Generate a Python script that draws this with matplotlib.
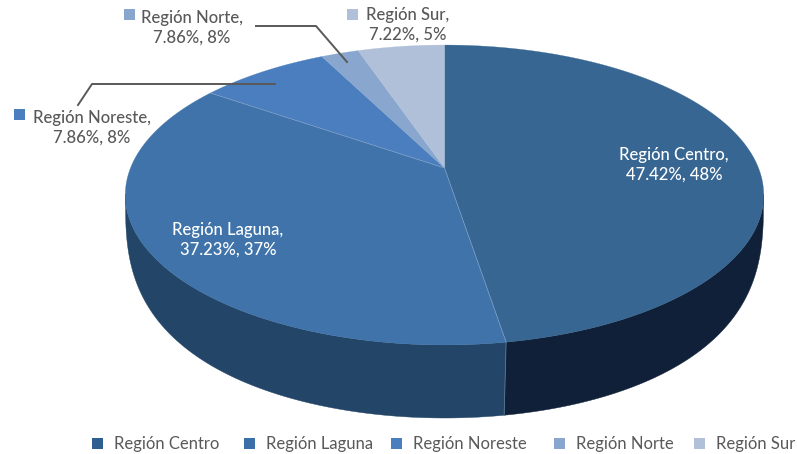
import numpy as np
import matplotlib
matplotlib.use("Agg")
import matplotlib.pyplot as plt
from matplotlib.patches import Rectangle

plt.rcParams['font.family'] = ['Lato', 'DejaVu Sans']

# Data
regions = ['Región Centro', 'Región Laguna', 'Región Noreste', 'Región Norte', 'Región Sur']
values = [47.42, 37.23, 7.86, 2.27, 5.22]
label_lines = ['47.42%, 48%', '37.23%, 37%', '7.86%, 8%', '7.86%, 8%', '7.22%, 5%']
top_colors = ['#366691', '#3f73aa', '#4a7ebf', '#88a6ce', '#b0c0d8']
side_colors = ['#102038', '#224568']
legend_colors = ['#2f5f8f', '#3a6fa8', '#4a7ebf', '#88a6ce', '#b0c0d8']

# Perspective disc, everything in pixels of the 797x454 image
cx, cy = 444.5, 168
A, B, K = 314, 145.1, -0.18
RIM_A, RIM_Y, RIM_B, RIM_P = 319, 200, 218, 0.72
GREY = '#595959'


def top_xy(theta):
    # theta in degrees, clockwise from 12 o'clock
    t = np.radians(theta)
    u, v = np.sin(t), -np.cos(t)
    w = 1 + K * v
    return cx + A * u / w, cy + B * v / w


def bottom_y(x):
    s = np.sqrt(np.clip(1 - ((x - cx) / RIM_A) ** 2, 0, 1))
    return RIM_Y + RIM_B * s ** RIM_P


fig = plt.figure(figsize=(7.97, 4.54), dpi=100)
ax = fig.add_axes([0, 0, 1, 1])
ax.set_xlim(0, 797)
ax.set_ylim(454, 0)
ax.axis('off')

edges = np.concatenate([[0], np.cumsum(values)]) * 3.6

# Side wall: right extreme is where x peaks, left extreme the same on the other side
right_th = 100.0
left_th = 260.0
split = edges[1]
for a0, a1, col in [(right_th, split, side_colors[0]), (split, left_th, side_colors[1])]:
    th = np.linspace(a0, a1, 150)
    x, y = top_xy(th)
    xb = x[::-1].copy()
    if a0 == split:
        xb[-1] = x[0] - 2
    else:
        xb[0] = x[-1] - 2
    ax.fill(np.r_[x, xb], np.r_[y, bottom_y(xb)], color=col, lw=0.3, zorder=1)

# Divider on the side wall
xs, ys = top_xy(split)
ax.plot([xs, xs - 2], [ys, bottom_y(xs - 2)], color='#5f7890', lw=0.6, zorder=2)

# Top slices
for i in range(len(values)):
    th = np.linspace(edges[i], edges[i + 1], 200)
    x, y = top_xy(th)
    ax.fill(np.r_[cx, x], np.r_[cy, y], color=top_colors[i], lw=0.2, zorder=3)
for e in edges[1:3]:
    x, y = top_xy(e)
    ax.plot([cx, x], [cy, y], color='#7fa0c6', lw=0.5, zorder=4)

# Leader lines
ax.plot([256, 316, 347], [26, 26, 62], color=GREY, lw=1.4, zorder=5)
ax.plot([78, 92, 275], [105, 84, 84], color=GREY, lw=1.4, zorder=5)

# Slice labels
label_pos = [(674, 165), (228, 240), (92, 128), (192, 28), (408, 25)]
label_col = ['white', 'white', GREY, GREY, GREY]
for i in range(len(regions)):
    ax.text(label_pos[i][0], label_pos[i][1], regions[i] + ',\n' + label_lines[i],
            ha='center', va='center', color=label_col[i], fontsize=12,
            fontweight='medium', linespacing=1.28, zorder=6)

# Small keys next to the outside labels
for i, (kx, ky) in zip([2, 3, 4], [(14, 109), (124, 9), (347, 9)]):
    ax.add_patch(Rectangle((kx, ky), 11, 11, color=top_colors[i], lw=0, zorder=6))

# Legend
leg_sq = [92, 244, 391, 554, 694]
leg_txt = [114, 266, 413, 576, 716]
for i in range(len(regions)):
    ax.add_patch(Rectangle((leg_sq[i], 438), 11, 11, color=legend_colors[i], lw=0))
    ax.text(leg_txt[i], 443.5, regions[i], ha='left', va='center', color=GREY, fontsize=12)

fig.savefig('out.png', dpi=100)
